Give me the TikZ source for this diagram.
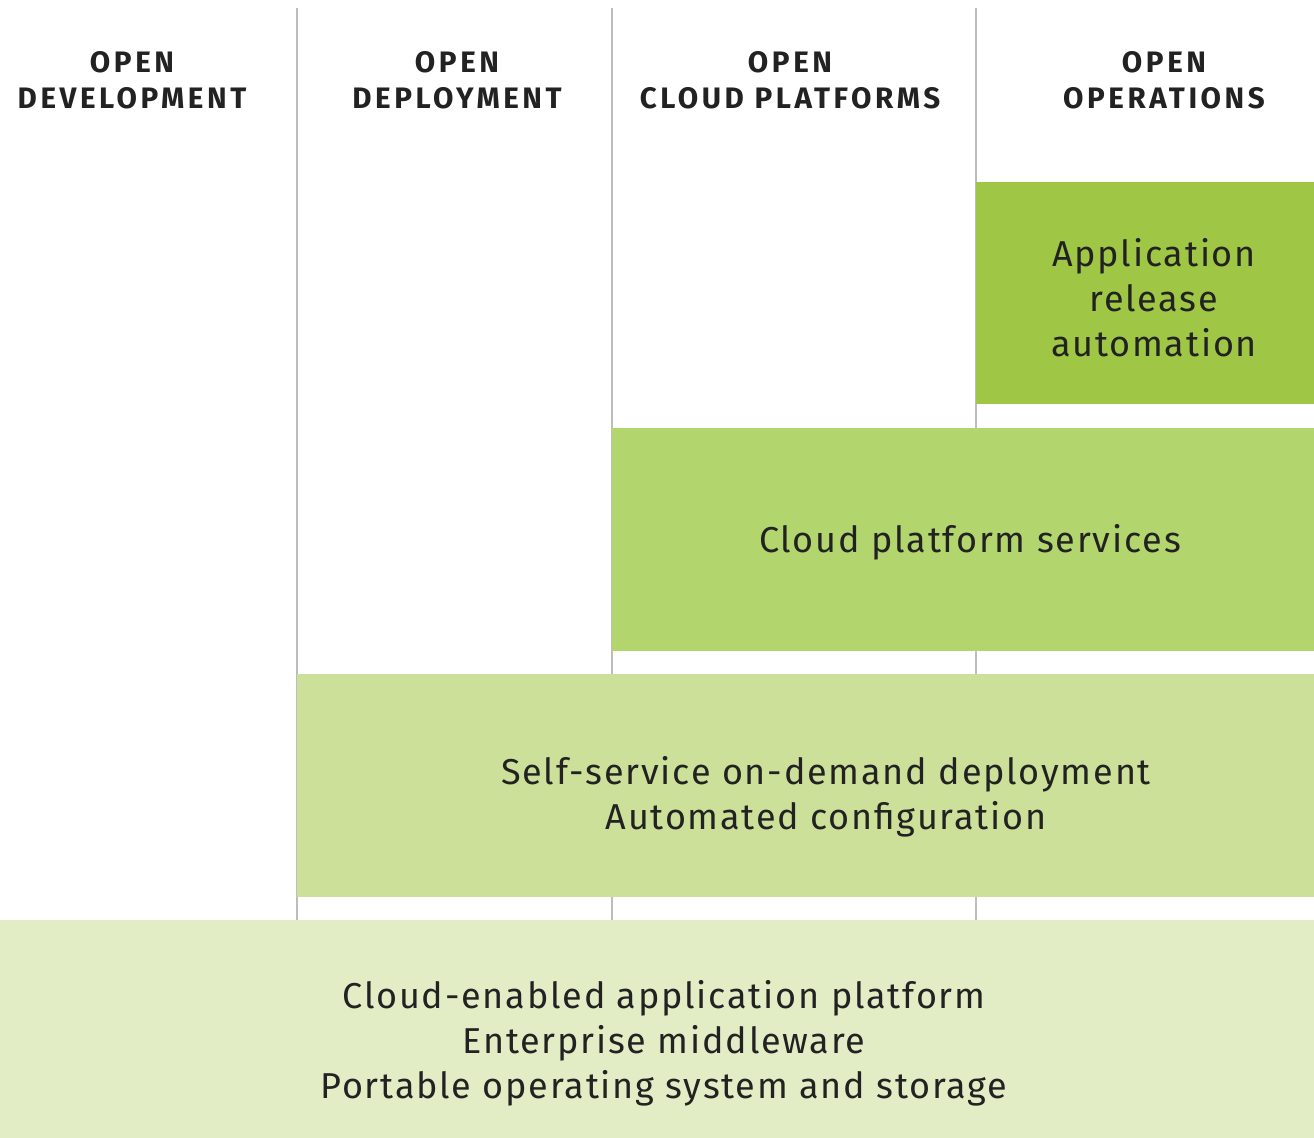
\documentclass[tikz,border=0pt]{standalone}
\usepackage{fontspec}
\setmainfont{Fira Sans}
\newfontfamily\hdfont[LetterSpace=12]{Fira Sans Bold}
\newfontfamily\bdfont[LetterSpace=5]{Fira Sans}
\definecolor{gA}{HTML}{9FC645}
\definecolor{gB}{HTML}{B2D56E}
\definecolor{gC}{HTML}{CDE09A}
\definecolor{gD}{HTML}{E3EDC5}
\definecolor{sep}{HTML}{BDBDBD}
\definecolor{ink}{HTML}{222222}
\begin{document}
\begin{tikzpicture}[x=0.5pt,y=-0.5pt,
  hd/.style={font=\hdfont\fontsize{14.8}{18}\selectfont, text=ink, align=center, inner sep=0pt},
  bd/.style={font=\bdfont\fontsize{18}{22.5}\selectfont, text=ink, align=center, inner sep=0pt},
  sepline/.style={draw=sep, line width=1.2pt}]
\useasboundingbox (0,0) rectangle (1314,1138);
\fill[white] (0,0) rectangle (1314,1138);
% separators
\coordinate (s1t) at (297,8); \coordinate (s1b) at (297,920);
\coordinate (s2t) at (612,8); \coordinate (s2b) at (612,920);
\coordinate (s3t) at (976,8); \coordinate (s3b) at (976,920);
\draw[sepline] (s1t) -- (s1b);
\draw[sepline] (s2t) -- (s2b);
\draw[sepline] (s3t) -- (s3b);
% boxes
\fill[gA] (976,182) rectangle (1314,404);
\fill[gB] (612,428) rectangle (1314,651);
\fill[gC] (297,674) rectangle (1314,897);
\fill[gD] (0,920) rectangle (1314,1138);
% headers
\node[hd] (h1) at (132,80) {OPEN\\DEVELOPMENT};
\node[hd] (h2) at (457,80) {OPEN\\DEPLOYMENT};
\node[hd] (h3) at (790,80) {OPEN\\CLOUD PLATFORMS};
\node[hd] (h4) at (1164,80) {OPEN\\OPERATIONS};
% box texts
\node[bd] (t1) at (1154,298) {Application\\release\\automation};
\node[bd] (t2) at (970,542) {Cloud platform services};
\node[bd] (t3) at (826,797) {Self-service on-demand deployment\\Automated configuration};
\node[bd] (t4) at (664,1043) {Cloud-enabled application platform\\Enterprise middleware\\Portable operating system and storage};
\end{tikzpicture}
\end{document}
